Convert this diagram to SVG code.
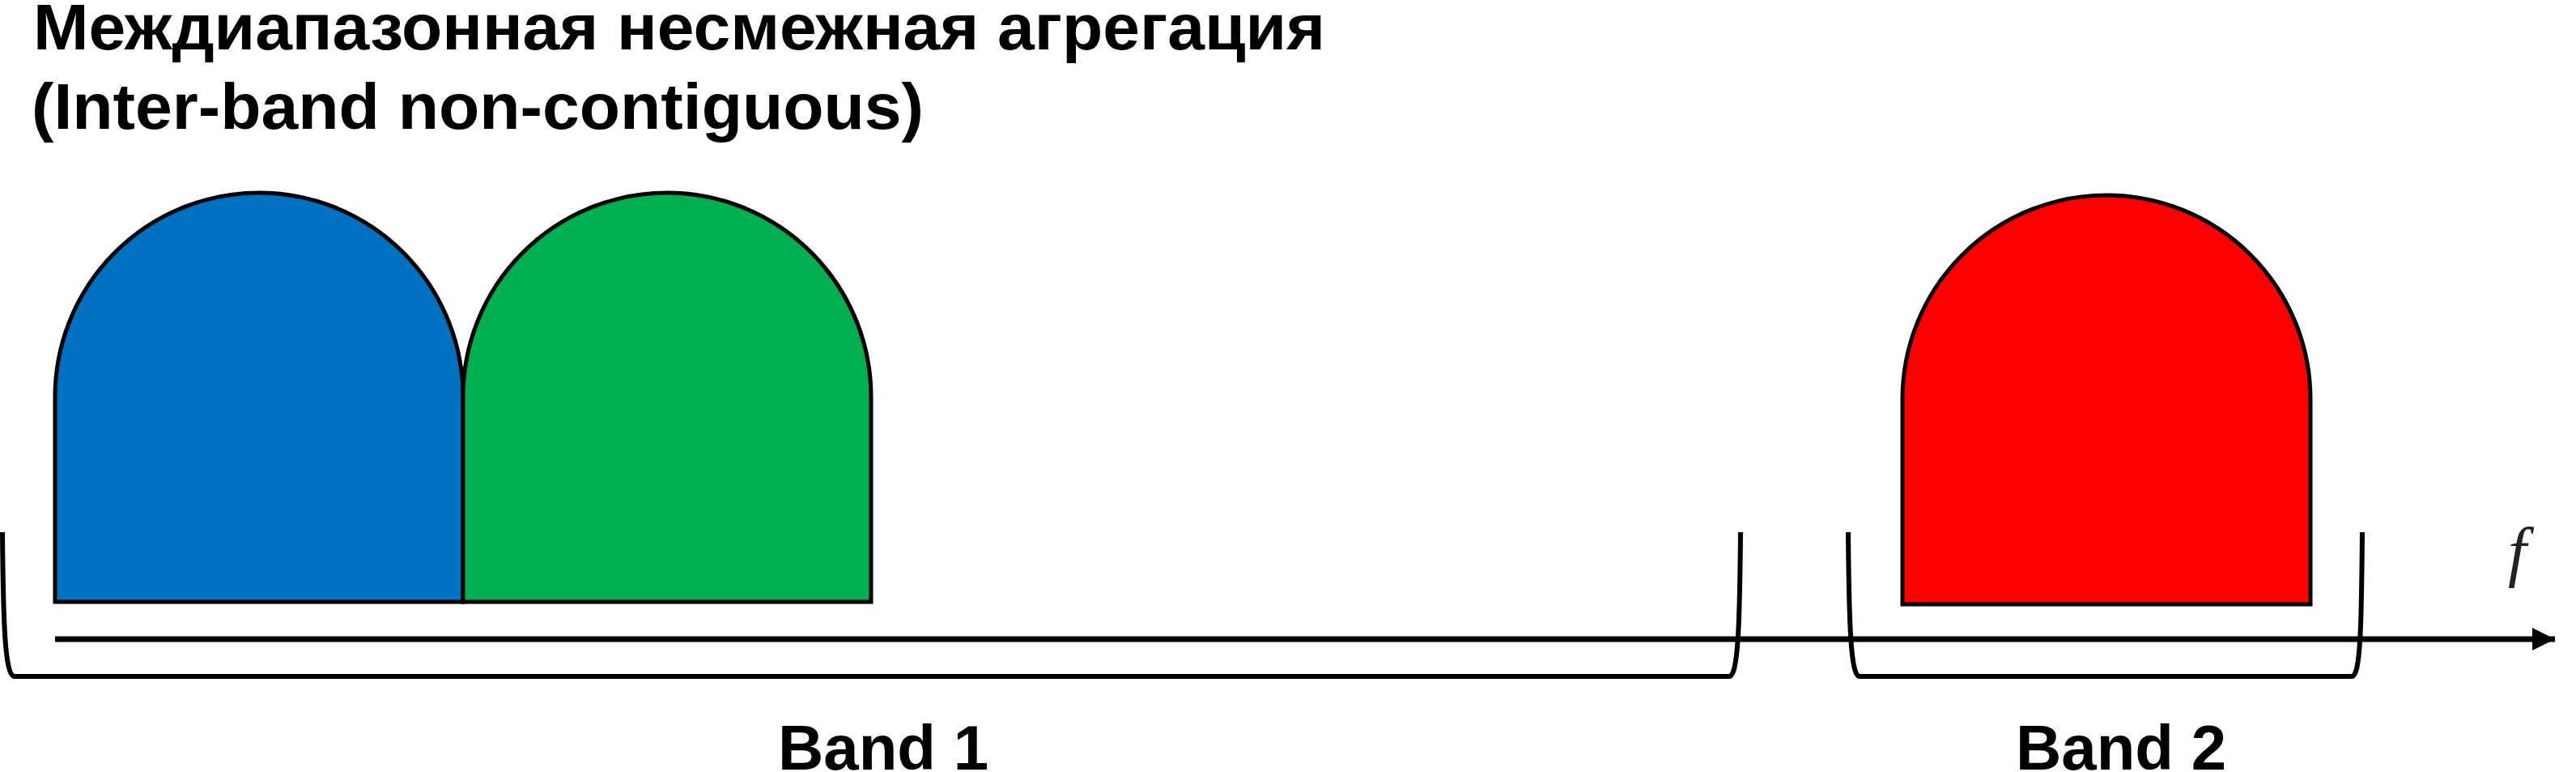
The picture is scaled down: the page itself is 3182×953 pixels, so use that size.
<svg xmlns="http://www.w3.org/2000/svg" width="3182" height="953" viewBox="0 0 3182 953">
<style>
.title{font-family:"Liberation Sans",Arial,sans-serif;font-weight:bold;font-size:79px;fill:#000}
.band{font-family:"Liberation Sans",Arial,sans-serif;font-weight:bold;font-size:78px;fill:#000;text-anchor:middle}
.carrier{stroke:#000;stroke-width:5;stroke-linejoin:miter}
.bracket{fill:none;stroke:#000;stroke-width:6;stroke-linecap:butt;stroke-linejoin:round}
.axis{stroke:#000;stroke-width:7;fill:none}
.flabel{font-family:"Liberation Serif","Times New Roman",serif;font-style:italic;font-size:82px;fill:#222}
</style>
<defs>
<marker id="arrowhead" markerWidth="28" markerHeight="28" viewBox="0 0 28 28" refX="28" refY="14" orient="auto" markerUnits="userSpaceOnUse">
<path d="M0,0 L28,14 L0,28 Z" fill="#000"/>
</marker>
</defs>
<rect x="0" y="0" width="3182" height="953" fill="#fff"/>
<g id="title">
<text class="title" x="41" y="61" textLength="1596" lengthAdjust="spacingAndGlyphs">Междиапазонная несмежная агрегация</text>
<text class="title" x="39" y="159" textLength="1102" lengthAdjust="spacingAndGlyphs">(Inter-band non-contiguous)</text>
</g>
<g id="carrier-blue">
<path class="carrier" fill="#0070C0" d="M68,743 L68,490 A252,252 0 0 1 572,490 L572,743 Z"/>
</g>
<g id="carrier-green">
<path class="carrier" fill="#00B050" d="M572,743 L572,490 A252,252 0 0 1 1076,490 L1076,743 Z"/>
</g>
<g id="carrier-red">
<path class="carrier" fill="#FF0000" d="M2350,746 L2350,493 A252,252 0 0 1 2854,493 L2854,746 Z"/>
</g>
<g id="connectors">
<path class="axis" d="M68,789 L3156,789" marker-end="url(#arrowhead)"/>
</g>
<g id="band1">
<path class="bracket" d="M3,657 C4,770 6,835 18,835 L2136,835 C2147,835 2149,770 2150,657"/>
<text class="band" x="1091" y="950">Band 1</text>
</g>
<g id="band2">
<path class="bracket" d="M2283,657 C2284,770 2286,835 2297,835 L2905,835 C2916,835 2917,770 2918,657"/>
<text class="band" x="2620" y="950">Band 2</text>
</g>
<g id="axis-label">
<text class="flabel" x="3098" y="708">f</text>
</g>
</svg>
